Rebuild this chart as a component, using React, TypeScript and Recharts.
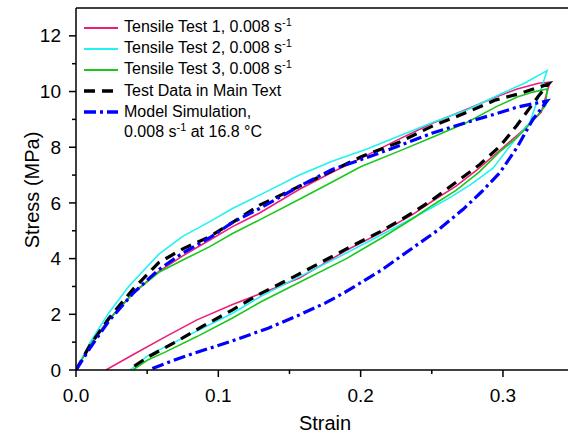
import React from "react";
import { LineChart, Line, XAxis, YAxis, ReferenceLine } from "recharts";

// strain / stress pairs (loading branch then unloading branch)
const test1Strain = [0, 0.01, 0.023, 0.04, 0.058, 0.075, 0.094, 0.11, 0.129, 0.157, 0.18, 0.2, 0.227, 0.25, 0.275, 0.295, 0.31, 0.325, 0.333, 0.327, 0.315, 0.298, 0.282, 0.267, 0.25, 0.237, 0.215, 0.19, 0.157, 0.135, 0.11, 0.085, 0.063, 0.04, 0.021];
const test1Stress = [0, 0.95, 1.8, 2.75, 3.53, 4.1, 4.67, 5.15, 5.64, 6.49, 7.1, 7.6, 8.29, 8.85, 9.37, 9.8, 10.09, 10.3, 10.34, 9.26, 8.65, 7.9, 7.2, 6.6, 6.05, 5.6, 4.95, 4.3, 3.3, 2.85, 2.35, 1.8, 1.2, 0.55, 0];

const test2Strain = [0, 0.01, 0.023, 0.037, 0.058, 0.075, 0.094, 0.11, 0.129, 0.157, 0.18, 0.204, 0.227, 0.251, 0.275, 0.298, 0.315, 0.331, 0.325, 0.319, 0.307, 0.293, 0.277, 0.263, 0.249, 0.22, 0.19, 0.155, 0.13, 0.11, 0.085, 0.063, 0.05, 0.038];
const test2Stress = [0, 1.0, 2.05, 3.0, 4.15, 4.8, 5.33, 5.8, 6.28, 7.0, 7.5, 7.93, 8.4, 8.9, 9.35, 9.9, 10.3, 10.75, 9.8, 8.9, 8.18, 7.25, 6.65, 6.2, 5.8, 5.0, 4.2, 3.3, 2.65, 2.04, 1.4, 0.84, 0.5, 0];

const test3Strain = [0, 0.01, 0.023, 0.04, 0.058, 0.075, 0.094, 0.11, 0.129, 0.157, 0.18, 0.2, 0.227, 0.25, 0.275, 0.295, 0.31, 0.321, 0.331, 0.33, 0.321, 0.31, 0.298, 0.283, 0.267, 0.25, 0.237, 0.215, 0.19, 0.155, 0.13, 0.11, 0.085, 0.063, 0.05, 0.04];
const test3Stress = [0, 0.9, 1.8, 2.75, 3.5, 3.95, 4.43, 4.9, 5.39, 6.13, 6.75, 7.3, 7.86, 8.35, 8.9, 9.45, 9.8, 9.98, 10.09, 9.5, 8.95, 8.35, 7.85, 7.1, 6.45, 5.9, 5.45, 4.75, 4.0, 3.1, 2.45, 1.87, 1.2, 0.65, 0.35, 0];

const mainStrain = [0, 0.01, 0.023, 0.04, 0.058, 0.075, 0.094, 0.11, 0.129, 0.157, 0.18, 0.2, 0.227, 0.25, 0.275, 0.295, 0.31, 0.325, 0.332, 0.325, 0.31, 0.298, 0.283, 0.267, 0.25, 0.237, 0.215, 0.19, 0.155, 0.13, 0.11, 0.09, 0.075, 0.05, 0.037];
const mainStress = [0, 0.9, 1.85, 2.9, 3.85, 4.35, 4.79, 5.3, 5.92, 6.6, 7.15, 7.65, 8.18, 8.75, 9.26, 9.7, 9.9, 10.15, 10.27, 9.84, 8.8, 8.04, 7.35, 6.74, 6.1, 5.66, 5.0, 4.35, 3.4, 2.75, 2.16, 1.6, 1.15, 0.45, 0];

const modelStrain = [0, 0.01, 0.023, 0.04, 0.058, 0.075, 0.094, 0.11, 0.129, 0.157, 0.18, 0.2, 0.227, 0.25, 0.275, 0.295, 0.31, 0.325, 0.331, 0.321, 0.31, 0.298, 0.285, 0.272, 0.255, 0.237, 0.215, 0.19, 0.175, 0.157, 0.135, 0.11, 0.08, 0.065, 0.051];
const modelStress = [0, 0.8, 1.75, 2.75, 3.6, 4.2, 4.75, 5.3, 5.8, 6.6, 7.2, 7.55, 8.05, 8.5, 8.9, 9.2, 9.44, 9.6, 9.66, 9.0, 8.0, 7.1, 6.4, 5.77, 5.05, 4.4, 3.6, 2.82, 2.4, 1.98, 1.5, 1.05, 0.55, 0.28, 0];

const xTicks = [0, 0.05, 0.1, 0.15, 0.2, 0.25, 0.3];
const yTicks = [0, 1, 2, 3, 4, 5, 6, 7, 8, 9, 10, 11, 12];

const pairs = (xs: number[], ys: number[]) => xs.map((x, i) => ({ x, y: ys[i] }));

const FONT = "'Liberation Sans', Arial, Helvetica, sans-serif";

function XTick({ x, y, payload }: any) {
  const v = payload.value as number;
  const major = Math.round(v * 100) % 10 === 0;
  return (
    <g>
      <line x1={x} x2={x} y1={y} y2={y + (major ? 7 : 4)} stroke="#000" strokeWidth={1.5} />
      {major && (
        <text x={x} y={y + 25} dy="0.35em" textAnchor="middle" fontSize={19} fontFamily={FONT} fill="#000">
          {v.toFixed(1)}
        </text>
      )}
    </g>
  );
}

function YTick({ x, y, payload }: any) {
  const v = payload.value as number;
  const major = v % 2 === 0;
  return (
    <g>
      <line x1={x} x2={x - (major ? 7 : 4)} y1={y} y2={y} stroke="#000" strokeWidth={1.5} />
      {major && (
        <text x={x - 15} y={y} dy="0.35em" textAnchor="end" fontSize={19} fontFamily={FONT} fill="#000">
          {v}
        </text>
      )}
    </g>
  );
}

const Sup = () => <span style={{ fontSize: 11, position: "relative", top: -6 }}>-1</span>;

const legendRows = [
  { color: "#ED1E79", dash: undefined, width: 1.8, label: <>Tensile Test 1, 0.008 s<Sup /></> },
  { color: "#22F2F2", dash: undefined, width: 1.8, label: <>Tensile Test 2, 0.008 s<Sup /></> },
  { color: "#19C819", dash: undefined, width: 1.8, label: <>Tensile Test 3, 0.008 s<Sup /></> },
  { color: "#000000", dash: "11 7", width: 3.5, label: <>Test Data in Main Text</> },
  { color: "#0000FF", dash: "12 4 3 4", width: 3.5, label: <>Model Simulation,</> },
];

export default function App() {
  return (
    <div style={{ position: "absolute", left: 0, top: 0, width: 568, height: 441, background: "#fff", fontFamily: FONT }}>
      <LineChart width={568} height={441} margin={{ top: 8, right: 0, left: 0, bottom: 0 }}>
        <XAxis
          dataKey="x"
          type="number"
          domain={[0, 0.3457]}
          ticks={xTicks}
          allowDataOverflow
          height={71}
          tickSize={0}
          tickMargin={0}
          tickLine={false}
          tick={<XTick />}
          axisLine={{ stroke: "#000", strokeWidth: 1.5 }}
        />
        <YAxis
          type="number"
          domain={[0, 13]}
          ticks={yTicks}
          allowDataOverflow
          width={76}
          tickSize={0}
          tickMargin={0}
          tickLine={false}
          tick={<YTick />}
          axisLine={{ stroke: "#000", strokeWidth: 1.5 }}
        />
        <ReferenceLine y={13} stroke="#000" strokeWidth={1.5} />
        <Line data={pairs(test1Strain, test1Stress)} dataKey="y" type="linear" stroke="#ED1E79" strokeWidth={1.6} dot={false} isAnimationActive={false} />
        <Line data={pairs(test2Strain, test2Stress)} dataKey="y" type="linear" stroke="#22F2F2" strokeWidth={1.6} dot={false} isAnimationActive={false} />
        <Line data={pairs(test3Strain, test3Stress)} dataKey="y" type="linear" stroke="#19C819" strokeWidth={1.6} dot={false} isAnimationActive={false} />
        <Line data={pairs(mainStrain, mainStress)} dataKey="y" type="linear" stroke="#000" strokeWidth={3.2} strokeDasharray="11 7" dot={false} isAnimationActive={false} />
        <Line data={pairs(modelStrain, modelStress)} dataKey="y" type="linear" stroke="#0000FF" strokeWidth={3.2} strokeDasharray="12 4 3 4" dot={false} isAnimationActive={false} />
      </LineChart>

      <div style={{ position: "absolute", left: 325, top: 411, transform: "translateX(-50%)", fontSize: 20, lineHeight: "24px" }}>Strain</div>
      <div
        style={{
          position: "absolute",
          left: 32,
          top: 190,
          transform: "translate(-50%, -50%) rotate(-90deg)",
          fontSize: 20,
          lineHeight: "24px",
          whiteSpace: "nowrap",
        }}
      >
        Stress (MPa)
      </div>

      <div style={{ position: "absolute", left: 83, top: 17, fontSize: 16 }}>
        {legendRows.map((r, i) => (
          <div key={i} style={{ display: "flex", alignItems: "center", height: 21, whiteSpace: "nowrap" }}>
            <svg width={36} height={8} style={{ marginRight: 5 }}>
              <line x1={1} x2={35} y1={4} y2={4} stroke={r.color} strokeWidth={r.width} strokeDasharray={r.dash} />
            </svg>
            <span style={{ lineHeight: "21px" }}>{r.label}</span>
          </div>
        ))}
        <div style={{ height: 20, lineHeight: "20px", paddingLeft: 41, whiteSpace: "nowrap" }}>
          0.008 s<Sup /> at 16.8 °C
        </div>
      </div>
    </div>
  );
}
